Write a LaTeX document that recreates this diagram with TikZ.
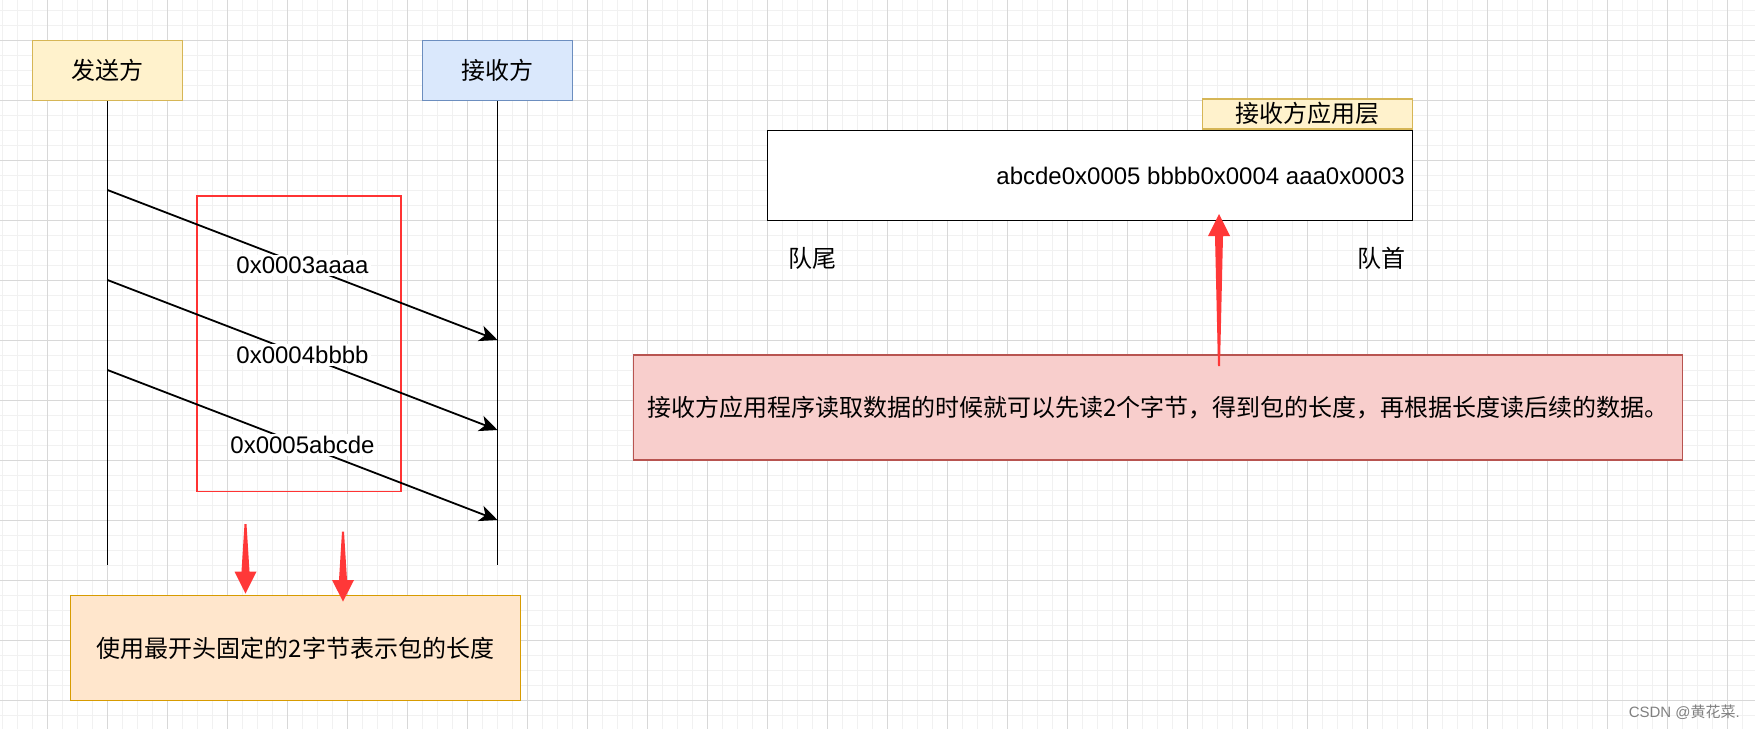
\documentclass[tikz,border=0pt]{standalone}
\usepackage{fontspec}
\setmainfont{Liberation Sans}
\newfontfamily\cjk{Noto Sans CJK SC}
\usepackage{tikz}
\usetikzlibrary{arrows.meta, calc, positioning}

\definecolor{gridmajor}{HTML}{D8D8D8}
\definecolor{gridminor}{HTML}{F1F1F1}
\definecolor{yellowfill}{HTML}{FFF2CC}
\definecolor{yellowline}{HTML}{D6B656}
\definecolor{bluefill}{HTML}{DAE8FC}
\definecolor{blueline}{HTML}{6C8EBF}
\definecolor{orangefill}{HTML}{FFE6CC}
\definecolor{orangeline}{HTML}{D79B00}
\definecolor{pinkfill}{HTML}{F8CECC}
\definecolor{pinkline}{HTML}{B85450}
\definecolor{pointer}{HTML}{FF3838}
\definecolor{redframe}{HTML}{FF3333}

% x, tail y, head base y, tip y
\newcommand{\PointerArrow}[4]{
	\fill[pointer] (#1-1,#2) -- (#1-4,#3) -- (#1-11,#3) -- (#1,#4) -- (#1+11,#3) -- (#1+4,#3) -- (#1+1,#2) -- cycle;
}
\newcommand{\bigtext}{\fontsize{24}{28}\selectfont}

\begin{document}
\begin{tikzpicture}[x=1pt, y=-1pt,
	lifebox/.style={draw, line width=1.5pt, inner sep=0pt, minimum width=150pt, minimum height=60pt, font=\cjk\bigtext},
	notebox/.style={draw, line width=1.5pt, inner sep=0pt, font=\cjk\bigtext},
	msg/.style={line width=1.8pt, -{Stealth[length=18pt, width=16pt, inset=5pt]}},
	msglabel/.style={fill=white, inner sep=2pt, font=\bigtext},
	lifeline/.style={line width=1.8pt}]

	\useasboundingbox (0,0) rectangle (1755,729);
	\fill[white] (0,0) rectangle (1755,729);

	% background grid
	\foreach \gx in {0,...,116}
		\draw[gridminor, line width=1pt] ({2.3+15*\gx},0) -- ++(0,729);
	\foreach \gy in {0,...,48}
		\draw[gridminor, line width=1pt] (0,{10.7+15*\gy}) -- ++(1755,0);
	\foreach \gx in {0,...,28}
		\draw[gridmajor, line width=1.2pt] ({47.3+60*\gx},0) -- ++(0,729);
	\foreach \gy in {0,...,11}
		\draw[gridmajor, line width=1.2pt] (0,{40.7+60*\gy}) -- ++(1755,0);

	% sequence part
	\node[lifebox, fill=yellowfill, draw=yellowline] (sender) at (107.5,70.5) {发送方};
	\node[lifebox, fill=bluefill, draw=blueline] (receiver) at (497.5,70.5) {接收方};

	\coordinate (sendend) at (107.5,565);
	\coordinate (recvend) at (497.5,565);
	\draw[lifeline] (sender.south) -- (sendend);
	\draw[lifeline] (receiver.south) -- (recvend);

	\coordinate (s1) at (107.5,190);
	\coordinate (s2) at (107.5,280);
	\coordinate (s3) at (107.5,370);
	\coordinate (r1) at (497.5,340);
	\coordinate (r2) at (497.5,430);
	\coordinate (r3) at (497.5,520);

	\draw[redframe, line width=1.2pt] (197,196) rectangle (401,491.5);

	\draw[msg] (s1) -- (r1) node[msglabel, midway] (pkt1) {0x0003aaaa};
	\draw[msg] (s2) -- (r2) node[msglabel, midway] (pkt2) {0x0004bbbb};
	\draw[msg] (s3) -- (r3) node[msglabel, midway] (pkt3) {0x0005abcde};

	\node[notebox, fill=orangefill, draw=orangeline, minimum width=450pt, minimum height=105pt] (header) at (295.5,648) {使用最开头固定的2字节表示包的长度};

	\PointerArrow{245.5}{524}{571.5}{593.5}
	\PointerArrow{343}{531.5}{580}{601.5}

	% receive buffer
	\node[draw, line width=1.8pt, fill=white, minimum width=645pt, minimum height=90pt, inner sep=0pt] (queue) at (1090,175.5) {};
	\node[notebox, fill=yellowfill, draw=yellowline, minimum width=210pt, minimum height=30pt, anchor=south east] (applayer) at (queue.north east) {接收方应用层};
	\node[anchor=east, inner sep=0pt, font=\bigtext] (bytes) at (1405,175.5) {abcde0x0005 bbbb0x0004 aaa0x0003};
	\node[font=\cjk\bigtext] (tail) at (812.5,258) {队尾};
	\node[font=\cjk\bigtext] (head) at (1381.5,258) {队首};

	\node[notebox, fill=pinkfill, draw=pinkline, minimum width=1049pt, minimum height=105pt] (reader) at (1158,407.5) {};
	\node[anchor=west, inner sep=0pt, font=\cjk\bigtext] (readtext) at (647,407.5) {接收方应用程序读取数据的时候就可以先读2个字节，得到包的长度，再根据长度读后续的数据。};

	\PointerArrow{1219}{366}{236}{214}

	\node[anchor=east, inner sep=0pt, text=gray, font=\fontsize{15}{18}\selectfont] (mark) at (1740,712) {CSDN @{\cjk 黄花菜}.};

\end{tikzpicture}
\end{document}
